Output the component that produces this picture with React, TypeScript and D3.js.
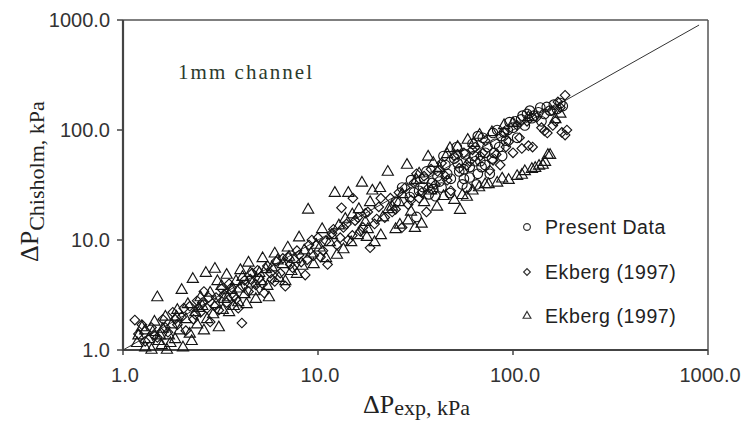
import React from "react";
import * as d3 from "d3";

const xTicks = [1, 10, 100, 1000];
const yTicks = [1, 10, 100, 1000];
const tickLabels = ["1.0", "10.0", "100.0", "1000.0"];
const legendLabels = ["Present Data", "Ekberg (1997)", "Ekberg (1997)"];
const fitLine: [number, number][] = [[1, 1], [900, 900]];

const presentData: [number, number][] = [
  [25, 22], [27, 30], [29.6, 24.6], [30, 35], [32, 16.2], [33, 28], [34.5, 30.3], [36, 42], [38.4, 33], [40, 25],
  [41, 38], [43, 30], [45, 48], [47.5, 26.7], [48, 36], [50, 55], [51.5, 70], [53, 42], [55, 32], [57, 60],
  [58, 30], [60, 37], [60, 46], [62, 75], [64, 52], [66, 40], [69, 46], [70, 85], [72, 62], [76, 40],
  [78, 55], [79, 94], [83, 100], [85, 70], [88, 58], [92, 80], [96, 118], [100, 105], [105, 85], [110, 125],
  [115, 110], [122, 150], [128, 135], [135, 145], [140, 120], [149, 162], [155, 150], [162, 170], [175, 176], [180, 165],
  [44, 58], [37, 26], [66, 88], [90, 95], [118, 140],
  [31, 27], [35, 36], [39, 29], [42, 34], [46, 40], [52, 50], [56, 44], [63, 58], [68, 52], [74, 70],
  [81, 75], [87, 88], [94, 100], [103, 120], [112, 135], [125, 128], [138, 160], [145, 140], [168, 155], [56, 36],
  [65, 32], [72, 48], [80, 62],
];

const ekbergDiamond: [number, number][] = [
  [1.15, 1.87], [1.2, 1.4], [1.3, 1.2], [1.4, 1.6], [1.5, 1.3], [1.6, 1.9], [1.7, 1.45], [1.8, 2.2], [1.9, 1.7], [2.0, 2.0],
  [2.1, 1.5], [2.2, 2.5], [2.3, 1.9], [2.4, 2.8], [2.5, 2.2], [2.6, 3.4], [2.7, 2.4], [2.8, 1.8], [3.0, 3.0], [3.1, 2.3],
  [3.2, 3.6], [3.4, 2.7], [3.5, 4.0], [3.7, 3.1], [3.9, 2.4], [4.07, 1.76], [4.2, 4.3], [4.4, 3.4], [4.6, 5.0], [4.8, 3.9],
  [5.0, 4.5], [5.3, 3.3], [5.5, 5.8], [5.8, 4.4], [6.1, 6.4], [6.4, 5.0], [6.8, 3.8], [7.0, 7.0], [7.4, 5.6], [7.8, 8.0],
  [8.2, 6.3], [8.6, 4.8], [9.0, 9.0], [9.5, 7.2], [10, 10.5], [10.6, 8.0], [11.2, 6.0], [11.8, 11.5], [12.5, 9.0], [13.2, 19.6],
  [13.5, 13], [14.3, 10], [15.1, 24], [15.5, 15], [16.5, 12], [17.5, 17.5], [18.5, 8.5], [19.5, 14], [20.5, 20], [22, 16],
  [23.5, 24], [25, 19], [27, 13], [28, 30], [30, 23], [32, 40], [34, 27], [36, 18], [38, 44], [40, 32],
  [43, 50], [45, 38], [48, 28], [50, 58], [53, 45], [56, 62], [60, 52], [64, 70], [68, 58], [72, 80],
  [76, 43], [79, 53], [86, 48], [90, 95], [95, 78], [100, 62], [105, 110], [111, 68], [118, 120], [126, 70],
  [132, 130], [140, 105], [150, 94], [158, 150], [165, 120], [175, 160], [185, 90], [189, 100], [185, 207], [170, 180],
  [1.25, 1.7], [1.45, 1.35], [1.65, 1.6], [1.85, 1.9], [2.05, 2.4], [2.35, 2.1], [2.55, 2.7], [2.75, 3.0], [2.95, 2.5], [3.3, 3.2],
  [3.6, 3.7], [3.8, 2.9], [4.1, 3.8], [4.5, 4.4], [4.9, 5.3], [5.2, 4.0], [5.7, 5.0], [6.0, 4.2], [6.6, 6.8], [7.2, 6.0],
  [8.0, 7.3], [8.8, 6.6], [9.3, 10.0], [10.3, 7.0], [11.0, 9.8], [12, 12.5], [13, 10.5], [14, 14], [15, 11], [16, 16],
  [17, 13], [18, 18], [20, 15.5], [21, 24], [24, 18], [26, 27], [29, 21], [31, 33], [33, 24], [35, 38],
  [37, 30], [41, 42], [46, 35], [52, 60], [58, 48], [62, 66], [70, 62], [82, 60], [92, 70], [108, 85],
  [120, 72], [145, 98], [160, 110], [178, 95],
];

const ekbergTriangle: [number, number][] = [
  [1.18, 1.15], [1.2, 1.35], [1.25, 1.6], [1.3, 1.05], [1.35, 1.25], [1.4, 1.0], [1.42, 1.45], [1.45, 1.8], [1.5, 3.0], [1.52, 1.2],
  [1.58, 1.1], [1.6, 1.55], [1.65, 2.0], [1.68, 1.0], [1.72, 1.35], [1.78, 1.7], [1.85, 1.25], [1.9, 2.3], [1.95, 1.5], [2.0, 3.5],
  [2.03, 1.05], [2.1, 1.9], [2.15, 2.6], [2.2, 1.4], [2.28, 4.4], [2.35, 2.2], [2.4, 1.7], [2.5, 3.0], [2.55, 2.5], [2.66, 5.0],
  [2.7, 1.9], [2.8, 3.3], [2.96, 5.45], [3.0, 2.6], [3.1, 1.6], [3.2, 3.8], [3.3, 2.9], [3.4, 4.8], [3.5, 2.2], [3.6, 3.5],
  [3.8, 4.2], [3.9, 2.7], [4.0, 5.3], [4.2, 3.2], [4.4, 6.2], [4.6, 4.0], [4.8, 2.9], [5.0, 5.0], [5.2, 6.8], [5.5, 3.8],
  [5.8, 5.6], [6.0, 7.5], [6.3, 4.5], [6.6, 6.0], [7.0, 8.5], [7.3, 5.2], [7.6, 6.7], [8.0, 10.5], [8.3, 5.8], [8.9, 18.8],
  [9.2, 7.5], [9.8, 9.0], [10.5, 12.5], [11.0, 6.8], [11.5, 9.5], [12.2, 26.7], [12.8, 13.5], [13.5, 8.2], [14.3, 26.7], [15.0, 17.0],
  [16.0, 11.0], [16.8, 33], [17.5, 14.5], [17.8, 10.6], [18.5, 22], [19.5, 9.5], [20.8, 29.5], [21.5, 16], [22.8, 41.5], [24, 20],
  [25, 12.5], [26.3, 13.7], [27, 26], [28.6, 48], [30, 18], [31.4, 12.8], [32, 35], [34, 14], [36.7, 57], [38, 28],
  [40.8, 20], [42, 45], [47.5, 68], [50, 23], [53.5, 18.7], [55, 25.5], [58, 24.6], [58.6, 81], [62, 28], [67, 30],
  [67.4, 90], [75, 32], [83, 33], [90, 110], [95, 35], [105, 38], [111, 39], [120, 130], [130, 45], [142, 48],
  [146, 51], [151, 59], [155, 59], [165, 125], [175, 140],
  [1.3, 1.5], [1.55, 1.35], [1.75, 1.15], [1.88, 2.0], [2.25, 1.2], [2.45, 2.4], [2.6, 1.5], [2.9, 2.1], [3.05, 4.2], [3.25, 2.3],
  [3.45, 3.0], [3.7, 2.5], [3.95, 3.6], [4.1, 4.6], [4.3, 2.6], [4.5, 5.0], [4.7, 3.4], [5.1, 4.2], [5.4, 5.4], [5.6, 3.0],
  [6.2, 6.5], [6.8, 4.2], [7.1, 7.0], [7.8, 4.9], [8.5, 8.0], [9.5, 6.0], [10.2, 8.5], [11.8, 11], [12.5, 7.3], [13.8, 15.5],
  [14.8, 9.5], [16.2, 19], [18, 12.5], [19, 28], [21, 11], [23, 19], [26, 22], [29, 15], [33, 40], [35, 22],
  [39, 50], [44, 25], [46, 60], [52, 70], [63, 76], [72, 32], [78, 95], [88, 36], [100, 115], [115, 42],
  [125, 44], [136, 47],
];

const W = 745;
const H = 421;
const left = 123, right = 708, top = 20, bottom = 350;

export default function App() {
  const x = d3.scaleLog().domain([1, 1000]).range([left, right]);
  const y = d3.scaleLog().domain([1, 1000]).range([bottom, top]);

  const circlePath = d3.symbol(d3.symbolCircle, 72)()!;
  const squarePath = d3.symbol(d3.symbolSquare, 46)()!;
  const triPath = d3.symbol(d3.symbolTriangle, 54)()!;
  const circleSmall = d3.symbol(d3.symbolCircle, 36)()!;
  const squareSmall = d3.symbol(d3.symbolSquare, 22)()!;
  const triSmall = d3.symbol(d3.symbolTriangle, 26)()!;

  const line = d3.line<[number, number]>().x((d) => x(d[0])).y((d) => y(d[1]));
  const stroke = "#141414";
  const legendY = [227, 272, 316];
  const serif = "'Liberation Serif', 'Times New Roman', serif";

  return (
    <svg
      width={W}
      height={H}
      style={{ position: "absolute", left: 0, top: 0, background: "#fff" }}
      fontFamily="'Liberation Sans', Arial, sans-serif"
    >
      <rect x={0} y={0} width={W} height={H} fill="#fff" />
      {/* plot frame */}
      <line x1={left} x2={right} y1={top} y2={top} stroke="#555" strokeWidth={1.5} />
      <line x1={right} x2={right} y1={top} y2={bottom} stroke="#555" strokeWidth={1.5} />
      <line x1={left} x2={left} y1={top} y2={bottom + 1} stroke="#444" strokeWidth={2.2} />
      <line x1={left - 1} x2={right} y1={bottom} y2={bottom} stroke="#444" strokeWidth={2.2} />

      {/* ticks */}
      {yTicks.map((t, i) => (
        <g key={"y" + t}>
          <line x1={left - 6} x2={left} y1={y(t)} y2={y(t)} stroke="#444" strokeWidth={1.5} />
          <text x={110} y={y(t)} dy="0.35em" textAnchor="end" fontSize={20} fill="#333">
            {tickLabels[i]}
          </text>
        </g>
      ))}
      {xTicks.map((t, i) => (
        <g key={"x" + t}>
          <line x1={x(t)} x2={x(t)} y1={bottom} y2={bottom + 5} stroke="#444" strokeWidth={1.5} />
          <text x={x(t) + 2} y={382} textAnchor="middle" fontSize={20} fill="#333">
            {tickLabels[i]}
          </text>
        </g>
      ))}

      {/* fit line */}
      <path d={line(fitLine)!} stroke="#333" strokeWidth={1} fill="none" />

      {/* data */}
      <g fill="none" stroke={stroke} strokeWidth={1.15}>
        {presentData.map((d, i) => (
          <path key={"c" + i} d={circlePath} transform={`translate(${x(d[0])},${y(d[1])})`} />
        ))}
        {ekbergDiamond.map((d, i) => (
          <path key={"d" + i} d={squarePath} transform={`translate(${x(d[0])},${y(d[1])}) rotate(45)`} />
        ))}
        {ekbergTriangle.map((d, i) => (
          <path key={"t" + i} d={triPath} transform={`translate(${x(d[0])},${y(d[1])})`} />
        ))}
      </g>

      {/* annotation */}
      <text x={178} y={79} fontFamily={serif} fontSize={21} fill="#2c3a2c" textLength={134} lengthAdjust="spacing">
        1mm channel
      </text>

      {/* legend */}
      <g fill="none" stroke="#333" strokeWidth={1.2}>
        <path d={circleSmall} transform={`translate(527,${legendY[0]})`} />
        <path d={squareSmall} transform={`translate(527,${legendY[1]}) rotate(45)`} />
        <path d={triSmall} transform={`translate(527,${legendY[2]})`} />
      </g>
      {legendLabels.map((l, i) => (
        <text key={"l" + i} x={545} y={legendY[i]} dy="0.36em" fontSize={19.5} fill="#222" letterSpacing={0.6}>
          {l}
        </text>
      ))}

      {/* axis titles */}
      <text x={363} y={413} fontFamily={serif} fontSize={26} fill="#222">
        ΔP
        <tspan fontSize={22} dy={2}>exp, kPa</tspan>
      </text>
      <text transform="translate(38,262) rotate(-90)" fontFamily={serif} fontSize={26} fill="#222">
        ΔP
        <tspan fontSize={22} dy={6}>Chisholm, kPa</tspan>
      </text>
    </svg>
  );
}
